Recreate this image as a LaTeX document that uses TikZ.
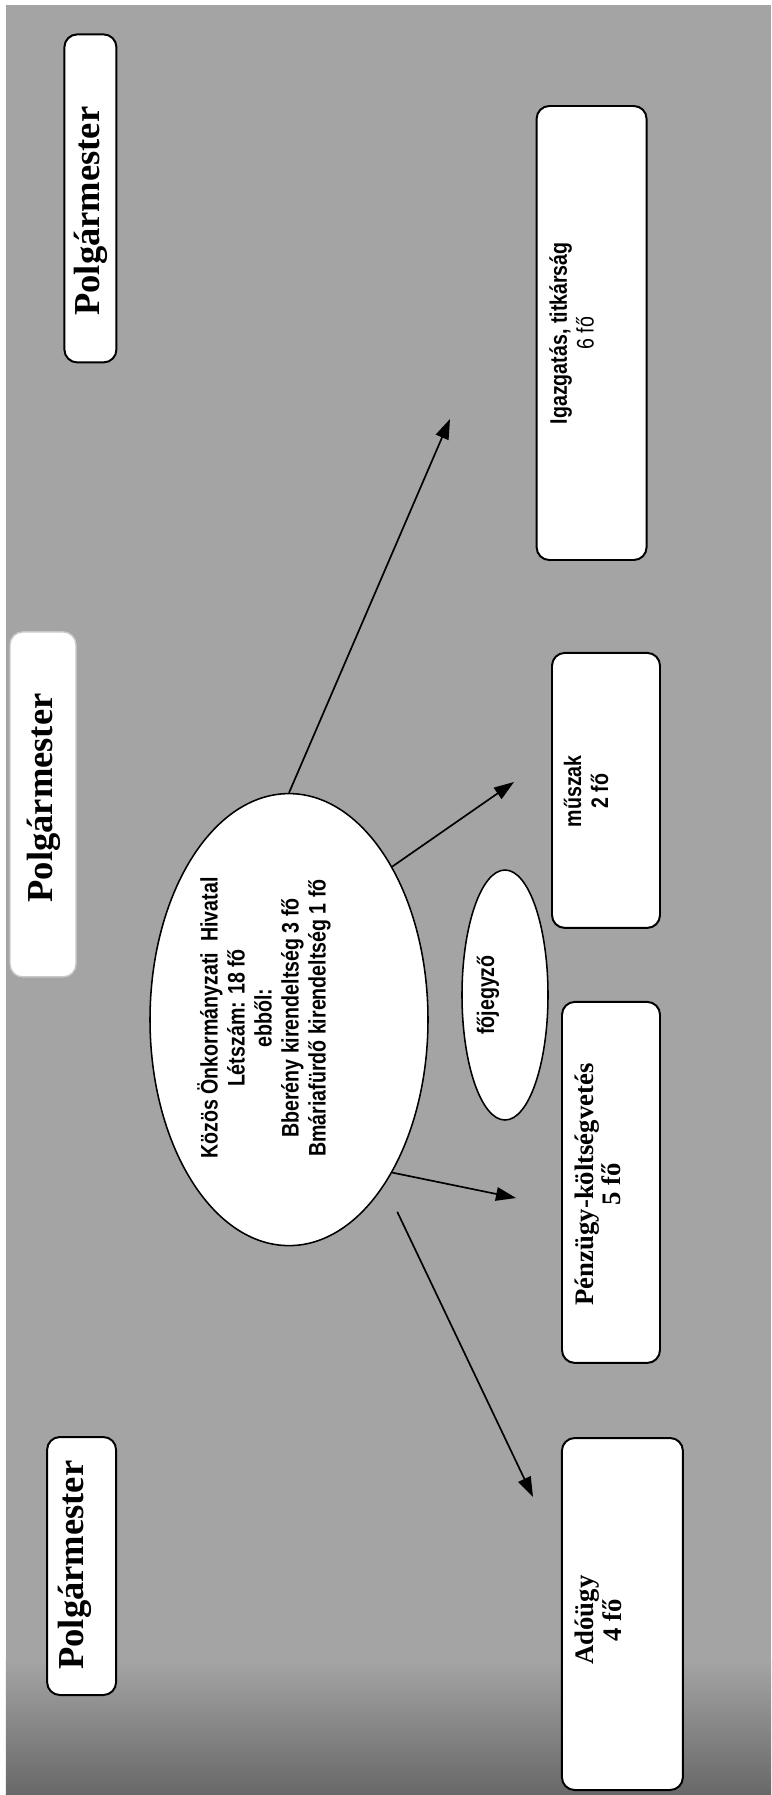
\documentclass[tikz,border=0pt]{standalone}
\usepackage{fontspec}
\setmainfont{Liberation Serif}
\newfontfamily\narrowsf[FakeStretch=0.82]{Liberation Sans}
\usetikzlibrary{arrows.meta, shapes.geometric}
\definecolor{cloth}{HTML}{A4A4A4}
\definecolor{clothdk}{HTML}{686868}
\definecolor{paleedge}{HTML}{C8C8C8}

\begin{document}
\begin{tikzpicture}[>={Triangle[length=0.5cm, width=0.34cm]},
  unitbox/.style={draw=black, line width=1.4pt, fill=white, rounded corners=0.32cm, inner sep=0pt},
  oval/.style={ellipse, draw=black, line width=1.1pt, fill=white, inner sep=0pt},
  bosstext/.style={rotate=90, font=\fontsize{26}{30}\selectfont\bfseries},
  seriftext/.style={rotate=90, align=center, font=\fontsize{19}{19.5}\selectfont\bfseries},
  sanstext/.style={rotate=90, align=center, font=\narrowsf\fontsize{17}{19.2}\selectfont},
  link/.style={->, line width=1.2pt}]

% Background — grey cloth, darker towards the bottom edge
\useasboundingbox (0,0) rectangle (19.275,-44.875);
\fill[white] (0,0) rectangle (19.275,-44.875);
\fill[cloth] (0.15,-0.12) rectangle (19.275,-44.875);
\shade[top color=cloth, bottom color=clothdk] (0.15,-41.5) rectangle (19.275,-44.875);

% Polgármester boxes down the left side
\node[unitbox, minimum width=1.3cm, minimum height=8.2cm] (polgA) at (2.26,-4.96) {};
\node[bosstext] (polgAt) at (2.26,-5.28) {Polgármester};
\node[unitbox, draw=paleedge, line width=1pt, minimum width=1.65cm, minimum height=8.625cm] (polgB) at (1.075,-20.11) {};
\node[bosstext] (polgBt) at (1.1,-19.95) {Polgármester};
\node[unitbox, minimum width=1.725cm, minimum height=6.45cm] (polgC) at (2.04,-39.15) {};
\node[bosstext] (polgCt) at (1.86,-39.13) {Polgármester};

% Common office — the big ellipse, and the chief notary beside it
\node[oval, minimum width=6.95cm, minimum height=11.3cm] (hivatal) at (7.225,-25.49) {};
\node[sanstext, font=\narrowsf\fontsize{17}{19.2}\selectfont\bfseries] (hivatalt) at (6.6,-25.45)
  {Közös Önkormányzati\ \ Hivatal\\Létszám: 18 fő\\ebből:\\Bberény kirendeltség 3 fő\\Bmáriafürdő kirendeltség 1 fő};
\node[oval, minimum width=2.15cm, minimum height=6.25cm] (fojegyzo) at (12.625,-24.875) {};
\node[sanstext, font=\narrowsf\fontsize{17}{19.2}\selectfont\bfseries] (fojegyzot) at (12.2,-24.875) {főjegyző};

% Departments on the right
\node[unitbox, minimum width=2.75cm, minimum height=11.35cm] (igazg) at (14.79,-8.325) {};
\node[sanstext] (igazgt) at (14.29,-8.33) {\textbf{Igazgatás, titkárság}\\6 fő};
\node[unitbox, minimum width=2.7cm, minimum height=6.875cm] (muszak) at (15.15,-19.76) {};
\node[sanstext] (muszakt) at (14.65,-19.78) {\textbf{műszak}\\\textbf{2 fő}};
\node[unitbox, minimum width=2.45cm, minimum height=9.025cm] (penzugy) at (15.275,-29.56) {};
\node[seriftext] (penzugyt) at (14.94,-29.61) {Pénzügy-költségvetés\\5 fő};
\node[unitbox, minimum width=3.025cm, minimum height=8.8cm] (adougy) at (15.56,-40.35) {};
\node[seriftext] (adougyt) at (14.96,-40.5) {Adóügy\\4 fő};

% Arrow tips stop short of the boxes
\coordinate (igTip) at (11.25,-10.475);
\coordinate (muTip) at (12.85,-19.55);
\coordinate (peTip) at (12.9,-29.95);
\coordinate (adTip) at (13.325,-37.425);

\draw[link] (hivatal.north) -- (igTip);
\draw[link] (hivatal.56) -- (muTip);
\draw[link] (hivatal.-56) -- (peTip);
\draw[link, shorten <=0.74cm] (hivatal.-60) -- (adTip);

\end{tikzpicture}
\end{document}
